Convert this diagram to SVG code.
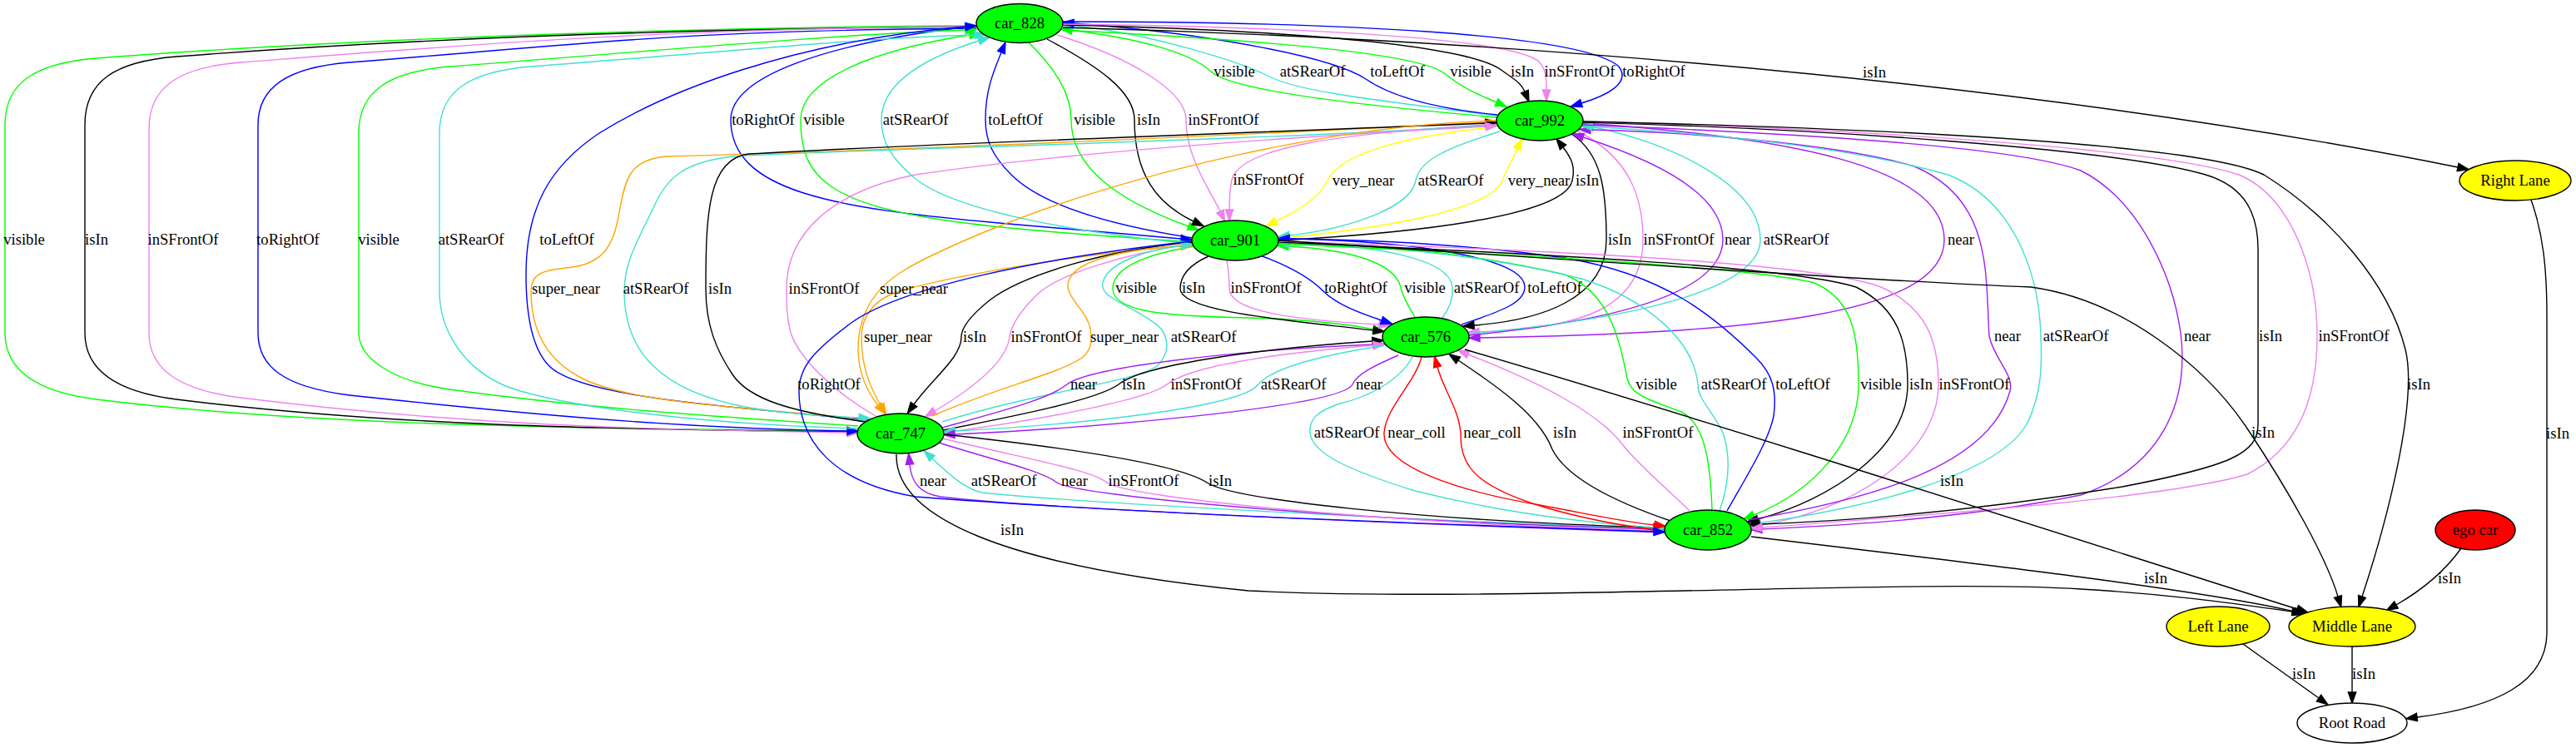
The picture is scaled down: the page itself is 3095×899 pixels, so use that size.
<svg xmlns="http://www.w3.org/2000/svg" width="3095" height="899" viewBox="0 0 3095 899">
<defs>
<style>
.e{fill:none;stroke-width:1.4}
.k{stroke:#000;marker-end:url(#mk)}
.g{stroke:#00ff00;marker-end:url(#mg)}
.v{stroke:#ee82ee;marker-end:url(#mv)}
.b{stroke:#0000ff;marker-end:url(#mb)}
.c{stroke:#40e0d0;marker-end:url(#mc)}
.o{stroke:#ffa500;marker-end:url(#mo)}
.y{stroke:#ffff00;marker-end:url(#my)}
.p{stroke:#a020f0;marker-end:url(#mp)}
.r{stroke:#ff0000;marker-end:url(#mr)}
text{font-family:"Liberation Serif","Times New Roman",serif;font-size:18.67px;fill:#000}
.l text{text-anchor:middle}
.n text{text-anchor:middle}
.n ellipse{stroke:#000;stroke-width:1.4}
</style>
<marker id="mk" markerUnits="userSpaceOnUse" markerWidth="14" markerHeight="10" refX="0" refY="4.7" orient="auto" overflow="visible"><path d="M0,0 L13.3,4.7 L0,9.4 Z" fill="#000" stroke="#000" stroke-width="1.3"/></marker>
<marker id="mg" markerUnits="userSpaceOnUse" markerWidth="14" markerHeight="10" refX="0" refY="4.7" orient="auto" overflow="visible"><path d="M0,0 L13.3,4.7 L0,9.4 Z" fill="#00ff00" stroke="#00ff00" stroke-width="1.3"/></marker>
<marker id="mv" markerUnits="userSpaceOnUse" markerWidth="14" markerHeight="10" refX="0" refY="4.7" orient="auto" overflow="visible"><path d="M0,0 L13.3,4.7 L0,9.4 Z" fill="#ee82ee" stroke="#ee82ee" stroke-width="1.3"/></marker>
<marker id="mb" markerUnits="userSpaceOnUse" markerWidth="14" markerHeight="10" refX="0" refY="4.7" orient="auto" overflow="visible"><path d="M0,0 L13.3,4.7 L0,9.4 Z" fill="#0000ff" stroke="#0000ff" stroke-width="1.3"/></marker>
<marker id="mc" markerUnits="userSpaceOnUse" markerWidth="14" markerHeight="10" refX="0" refY="4.7" orient="auto" overflow="visible"><path d="M0,0 L13.3,4.7 L0,9.4 Z" fill="#40e0d0" stroke="#40e0d0" stroke-width="1.3"/></marker>
<marker id="mo" markerUnits="userSpaceOnUse" markerWidth="14" markerHeight="10" refX="0" refY="4.7" orient="auto" overflow="visible"><path d="M0,0 L13.3,4.7 L0,9.4 Z" fill="#ffa500" stroke="#ffa500" stroke-width="1.3"/></marker>
<marker id="my" markerUnits="userSpaceOnUse" markerWidth="14" markerHeight="10" refX="0" refY="4.7" orient="auto" overflow="visible"><path d="M0,0 L13.3,4.7 L0,9.4 Z" fill="#ffff00" stroke="#ffff00" stroke-width="1.3"/></marker>
<marker id="mp" markerUnits="userSpaceOnUse" markerWidth="14" markerHeight="10" refX="0" refY="4.7" orient="auto" overflow="visible"><path d="M0,0 L13.3,4.7 L0,9.4 Z" fill="#a020f0" stroke="#a020f0" stroke-width="1.3"/></marker>
<marker id="mr" markerUnits="userSpaceOnUse" markerWidth="14" markerHeight="10" refX="0" refY="4.7" orient="auto" overflow="visible"><path d="M0,0 L13.3,4.7 L0,9.4 Z" fill="#ff0000" stroke="#ff0000" stroke-width="1.3"/></marker>
</defs>
<rect width="3095" height="899" fill="#fff"/>
<g id="connectors">
<path class="e g" d="M1798,141 C1650,128 1480,110 1455,86 C1430,62 1360,45 1288,36.5"/>
<path class="e c" d="M1798,139 C1650,120 1560,110 1525,92 C1490,74 1380,40 1290,31"/>
<path class="e b" d="M1799,138 C1720,130 1670,115 1641,95 C1600,68 1450,40 1290,28"/>
<path class="e g" d="M1276,36 C1450,45 1700,60 1735,88 C1760,108 1780,115 1798,123"/>
<path class="e k" d="M1277,30 C1500,35 1760,50 1805,85 C1820,96 1828,100 1832,110"/>
<path class="e v" d="M1277,29 C1550,32 1820,45 1850,75 C1858,85 1858,95 1858,108"/>
<path class="e b" d="M1277,26 C1600,26 1900,40 1945,80 C1960,100 1930,115 1900,124"/>
<path class="e k" d="M1277,33 C1900,50 2500,110 2953,201"/>
<path class="e b" d="M1174,31 C1000,50 878,90 878,144 C878,230 1000,250 1200,268 C1320,278 1380,283 1419,287"/>
<path class="e g" d="M1432,291 C1200,275 1060,265 1000,225 C970,205 962,180 962,144 C962,95 1050,60 1165,42"/>
<path class="e c" d="M1433,293 C1300,280 1150,255 1100,215 C1070,190 1059,170 1059,144 C1059,100 1110,70 1176,49"/>
<path class="e b" d="M1433,286 C1330,270 1250,245 1215,210 C1193,188 1184,170 1184,144 C1184,110 1192,90 1203,63"/>
<path class="e g" d="M1236,51 C1265,80 1287,110 1287,144 C1287,200 1340,240 1428,272"/>
<path class="e k" d="M1258,47 C1320,80 1363,110 1363,144 C1363,210 1390,245 1434,266"/>
<path class="e v" d="M1270,42 C1360,70 1425,110 1425,144 C1425,190 1455,230 1466,254"/>
<path class="e v" d="M1798,149 C1620,160 1490,175 1480,216 C1477,230 1477,240 1477,252"/>
<path class="e y" d="M1800,152 C1680,165 1610,185 1595,217 C1585,237 1565,250 1533,266"/>
<path class="e c" d="M1802,158 C1730,180 1705,195 1701,217 C1695,250 1620,275 1549,283"/>
<path class="e y" d="M1536,287 C1650,275 1790,255 1805,217 C1812,200 1818,190 1823,179"/>
<path class="e k" d="M1536,289 C1700,280 1880,260 1889,217 C1893,200 1888,190 1878,177"/>
<path class="e k" d="M1888,161 C1925,185 1930,230 1930,288 C1930,360 1850,385 1771,391"/>
<path class="e v" d="M1896,158 C1960,190 1974,240 1974,288 C1974,370 1900,395 1777,399"/>
<path class="e p" d="M1765,403 C1950,385 2070,350 2070,288 C2070,230 1980,190 1902,165"/>
<path class="e c" d="M1765,401 C2000,380 2115,340 2115,288 C2115,220 2000,170 1915,153"/>
<path class="e p" d="M1902,148 C2150,165 2336,200 2336,288 C2336,380 2100,400 1778,406"/>
<path class="e g" d="M1173,31 C800,33 400,48 116,70 C41,76 6,100 6,150 L6,400 C6,440 36,470 116,480 C406,516 800,515 1018,518"/>
<path class="e k" d="M1173,32 C800,35 496,46 212,68 C137,74 102,98 102,150 L102,400 C102,440 132,470 212,480 C502,516 800,516 1018,519"/>
<path class="e v" d="M1173,32 C800,34 573,53 289,75 C214,81 179,105 179,155 L179,400 C179,440 209,468 289,478 C579,514 800,516 1018,520"/>
<path class="e b" d="M1173,34 C800,37 704,53 420,75 C345,81 310,105 310,150 L310,400 C310,440 340,465 420,475 C700,505 850,515 1018,518"/>
<path class="e g" d="M1031,512 C850,500 700,490 540,468 C470,458 431,430 431,400 L431,160 C431,110 466,86 541,80 C825,58 1000,42 1160,36"/>
<path class="e c" d="M1031,515 C850,510 680,490 610,465 C560,445 528,400 528,350 L528,160 C528,110 563,86 638,80 C922,58 1050,45 1171,42"/>
<path class="e b" d="M1044,505 C900,490 700,480 660,440 C640,420 632,380 632,330 C632,250 660,200 720,160 C800,110 950,50 1160,32"/>
<path class="e o" d="M1042,504 C900,490 760,485 700,455 C660,435 638,400 638,350 C638,330 650,325 680,322 C730,318 738,290 745,250 C752,210 760,192 800,188 C1100,180 1500,162 1785,147"/>
<path class="e c" d="M1798,150 C1500,170 1000,180 880,188 C820,195 800,215 785,250 C760,300 750,320 750,350 C750,420 790,470 900,490 C950,498 990,500 1032,502"/>
<path class="e k" d="M1040,507 C950,495 900,480 880,450 C860,420 848,390 848,347 C848,260 850,190 900,185 C1100,173 1500,160 1785,148"/>
<path class="e v" d="M1052,500 C1000,470 960,430 950,400 C945,380 945,365 945,347 C945,280 1000,230 1100,210 C1300,180 1600,162 1785,152"/>
<path class="e o" d="M1798,145 C1600,150 1350,210 1180,280 C1090,318 1062,335 1045,365 C1025,400 1025,450 1055,487"/>
<path class="e g" d="M1435,296 C1380,305 1337,320 1337,347 C1337,375 1400,380 1500,382 C1580,384 1620,390 1650,395.6"/>
<path class="e k" d="M1452,308 C1425,320 1418,335 1418,347 C1418,375 1550,385 1650,397"/>
<path class="e v" d="M1474,313 C1476,325 1477,335 1477,347 C1477,375 1560,385 1657,390"/>
<path class="e b" d="M1514,307 C1550,320 1575,335 1590,350 C1605,365 1630,375 1660,385"/>
<path class="e g" d="M1700,381 C1690,365 1685,355 1683,345 C1675,315 1620,300 1548,296"/>
<path class="e c" d="M1733,382 C1742,370 1746,358 1745,345 C1742,310 1650,295 1549,291"/>
<path class="e b" d="M1756,390 C1800,375 1832,365 1832,345 C1832,310 1700,290 1549,287"/>
<path class="e o" d="M1432,294 C1300,305 1150,330 1080,350 C1045,362 1035,385 1035,405 C1035,440 1045,465 1058,487"/>
<path class="e k" d="M1433,291 C1330,300 1230,330 1190,360 C1165,380 1155,395 1155,405 C1155,430 1120,455 1098,486"/>
<path class="e v" d="M1433,293 C1350,305 1270,330 1245,355 C1225,375 1215,390 1213,405 C1210,430 1180,460 1123,494"/>
<path class="e o" d="M1120,500 C1200,465 1270,450 1300,430 C1312,420 1312,410 1310,395 C1305,370 1275,355 1285,335 C1295,315 1340,300 1419,296"/>
<path class="e c" d="M1132,507 C1250,470 1360,460 1390,440 C1405,425 1405,410 1395,395 C1370,370 1320,360 1325,340 C1330,315 1380,300 1420,295"/>
<path class="e p" d="M1132,514 C1200,495 1260,480 1282,462 C1310,440 1500,420 1650,414"/>
<path class="e k" d="M1133,517 C1220,500 1320,480 1344,462 C1370,440 1500,420 1649,410"/>
<path class="e v" d="M1133,520 C1250,505 1380,480 1402,462 C1430,440 1530,425 1650,415"/>
<path class="e c" d="M1664,415 C1600,425 1530,440 1512,462 C1490,490 1300,510 1147,518"/>
<path class="e p" d="M1680,427 C1650,440 1630,450 1625,462 C1610,490 1300,515 1147,522"/>
<path class="e p" d="M2001,640 C1700,630 1250,612 1130,597 C1105,593 1095,580 1093,558"/>
<path class="e c" d="M2000,636 C1700,625 1300,605 1180,592 C1160,588 1140,570 1120,551"/>
<path class="e p" d="M1128,532 C1200,555 1250,565 1270,580 C1290,595 1600,625 1988,636"/>
<path class="e v" d="M1132,527 C1250,555 1310,565 1330,580 C1355,598 1650,628 1988,638"/>
<path class="e k" d="M1134,522 C1300,540 1420,560 1450,580 C1480,600 1700,625 1987,634"/>
<path class="e c" d="M1697,429 C1680,460 1640,478 1610,485 C1580,495 1573,505 1574,520 C1576,545 1620,565 1700,590 C1800,615 1900,628 1988,634"/>
<path class="e r" d="M1708,429 C1700,460 1665,490 1663,520 C1660,560 1750,590 1850,607 C1920,620 1950,627 1988,631"/>
<path class="e r" d="M2000,639 C1900,625 1790,600 1765,560 C1755,545 1755,530 1755,520 C1752,490 1735,470 1727,441"/>
<path class="e k" d="M2010,627 C1930,600 1880,570 1865,540 C1850,500 1800,465 1752,433"/>
<path class="e v" d="M2030,614 C2000,585 1965,555 1950,535 C1920,495 1850,460 1764,426"/>
<path class="e b" d="M1432,290 C1250,310 1080,345 1020,390 C980,420 960,440 960,470 C960,530 1000,580 1100,597 C1400,620 1800,632 1987,639"/>
<path class="e g" d="M2057,613 C2055,560 2050,510 2020,495 C1980,480 1960,475 1955,455 C1945,400 1930,350 1880,330 C1750,300 1620,292 1549,291"/>
<path class="e c" d="M2066,614 C2078,580 2080,550 2070,520 C2055,490 2040,480 2040,462 C2035,410 1980,360 1900,335 C1780,305 1640,294 1549,293"/>
<path class="e b" d="M2075,614 C2100,570 2125,530 2131,500 C2135,470 2130,450 2110,430 C2060,380 2000,330 1880,310 C1750,292 1640,288 1549,287"/>
<path class="e g" d="M1536,293 C1800,305 2100,320 2180,340 C2225,360 2233,400 2233,462 C2233,530 2180,590 2107,619"/>
<path class="e k" d="M1536,291 C1850,305 2150,320 2230,345 C2280,370 2292,410 2292,462 C2292,540 2200,600 2112,624"/>
<path class="e v" d="M1536,290 C1850,300 2180,315 2260,345 C2315,370 2329,410 2329,462 C2329,550 2220,615 2116,631"/>
<path class="e p" d="M2100,625 C2250,600 2390,560 2415,470 C2420,450 2395,430 2390,404 C2385,330 2395,240 2300,200 C2200,170 2000,158 1911,156"/>
<path class="e c" d="M2103,630 C2250,610 2400,570 2435,510 C2455,470 2453,430 2452,404 C2450,330 2420,240 2340,210 C2200,170 2000,158 1913,152"/>
<path class="e p" d="M1902,150 C2150,160 2420,175 2500,205 C2570,240 2610,330 2620,400 C2630,480 2600,560 2500,595 C2350,625 2200,632 2117,636"/>
<path class="e k" d="M1902,147 C2200,155 2550,180 2650,210 C2700,225 2713,260 2713,300 L2713,510 C2713,545 2680,560 2550,585 C2400,610 2250,625 2114,630"/>
<path class="e v" d="M1902,146 C2250,155 2600,180 2690,210 C2750,235 2784,320 2784,404 C2784,480 2760,540 2700,570 C2600,600 2300,620 2117,634"/>
<path class="e k" d="M1902,146 C2300,155 2650,175 2720,210 C2800,260 2870,340 2890,420 C2905,480 2870,620 2838,717"/>
<path class="e k" d="M1536,289 C2000,320 2300,340 2440,345 C2550,360 2650,440 2700,515 C2750,590 2795,670 2809,717"/>
<path class="e k" d="M1760,420 C2100,520 2500,650 2760,732"/>
<path class="e k" d="M2104,645 C2400,680 2650,710 2757,735"/>
<path class="e k" d="M1077,546 C1075,620 1200,680 1500,710 C1800,725 2300,695 2500,708 C2620,715 2700,728 2754,735"/>
<path class="e k" d="M2957,659 C2935,690 2905,712 2879,727"/>
<path class="e k" d="M2695,774 L2786,839"/>
<path class="e k" d="M2826,777 L2826,832"/>
<path class="e k" d="M3041,240 C3055,280 3060,320 3060,380 L3060,760 C3060,820 3000,850 2904,862"/>
<g class="l">
<text x="1483" y="92">visible</text>
<text x="1577" y="92">atSRearOf</text>
<text x="1679" y="92">toLeftOf</text>
<text x="1767" y="92">visible</text>
<text x="1829" y="92">isIn</text>
<text x="1898" y="92">inSFrontOf</text>
<text x="1987" y="92">toRightOf</text>
<text x="2252" y="93">isIn</text>
<text x="917" y="150">toRightOf</text>
<text x="990" y="150">visible</text>
<text x="1100" y="150">atSRearOf</text>
<text x="1220" y="150">toLeftOf</text>
<text x="1315" y="150">visible</text>
<text x="1380" y="150">isIn</text>
<text x="1470" y="150">inSFrontOf</text>
<text x="1524" y="222">inSFrontOf</text>
<text x="1638" y="223">very_near</text>
<text x="1743" y="223">atSRearOf</text>
<text x="1849" y="223">very_near</text>
<text x="1907" y="223">isIn</text>
<text x="29" y="294">visible</text>
<text x="116" y="294">isIn</text>
<text x="220" y="294">inSFrontOf</text>
<text x="346" y="294">toRightOf</text>
<text x="455" y="294">visible</text>
<text x="566" y="294">atSRearOf</text>
<text x="681" y="294">toLeftOf</text>
<text x="1946" y="294">isIn</text>
<text x="2017" y="294">inSFrontOf</text>
<text x="2088" y="294">near</text>
<text x="2158" y="294">atSRearOf</text>
<text x="2356" y="294">near</text>
<text x="680" y="353">super_near</text>
<text x="788" y="353">atSRearOf</text>
<text x="865" y="353">isIn</text>
<text x="990" y="353">inSFrontOf</text>
<text x="1098" y="353">super_near</text>
<text x="1365" y="352">visible</text>
<text x="1434" y="352">isIn</text>
<text x="1521" y="352">inSFrontOf</text>
<text x="1629" y="352">toRightOf</text>
<text x="1712" y="352">visible</text>
<text x="1786" y="352">atSRearOf</text>
<text x="1868" y="352">toLeftOf</text>
<text x="2412" y="410">near</text>
<text x="2494" y="410">atSRearOf</text>
<text x="2640" y="410">near</text>
<text x="2728" y="410">isIn</text>
<text x="2828" y="410">inSFrontOf</text>
<text x="1079" y="411">super_near</text>
<text x="1171" y="411">isIn</text>
<text x="1257" y="411">inSFrontOf</text>
<text x="1351" y="411">super_near</text>
<text x="1446" y="411">atSRearOf</text>
<text x="996" y="468">toRightOf</text>
<text x="1302" y="468">near</text>
<text x="1362" y="468">isIn</text>
<text x="1449" y="468">inSFrontOf</text>
<text x="1554" y="468">atSRearOf</text>
<text x="1645" y="468">near</text>
<text x="1990" y="468">visible</text>
<text x="2083" y="468">atSRearOf</text>
<text x="2166" y="468">toLeftOf</text>
<text x="2260" y="468">visible</text>
<text x="2308" y="468">isIn</text>
<text x="2372" y="468">inSFrontOf</text>
<text x="2906" y="468">isIn</text>
<text x="1618" y="526">atSRearOf</text>
<text x="1702" y="526">near_coll</text>
<text x="1793" y="526">near_coll</text>
<text x="1880" y="526">isIn</text>
<text x="1992" y="526">inSFrontOf</text>
<text x="2719" y="526">isIn</text>
<text x="3073" y="527">isIn</text>
<text x="1121" y="584">near</text>
<text x="1206" y="584">atSRearOf</text>
<text x="1291" y="584">near</text>
<text x="1374" y="584">inSFrontOf</text>
<text x="1466" y="584">isIn</text>
<text x="2345" y="584">isIn</text>
<text x="1216" y="643">isIn</text>
<text x="2590" y="701">isIn</text>
<text x="2943" y="701">isIn</text>
<text x="2768" y="816">isIn</text>
<text x="2840" y="816">isIn</text>
</g>
</g>
<g id="car_828" class="n"><ellipse cx="1225" cy="28" rx="52" ry="23.5" fill="#00ff00"/><text x="1225" y="34">car_828</text></g>
<g id="car_992" class="n"><ellipse cx="1850" cy="145" rx="52" ry="24" fill="#00ff00"/><text x="1850" y="151">car_992</text></g>
<g id="car_901" class="n"><ellipse cx="1484" cy="289" rx="52" ry="24" fill="#00ff00"/><text x="1484" y="295">car_901</text></g>
<g id="car_576" class="n"><ellipse cx="1713" cy="405" rx="52" ry="24" fill="#00ff00"/><text x="1713" y="411">car_576</text></g>
<g id="car_747" class="n"><ellipse cx="1082" cy="521" rx="52" ry="24" fill="#00ff00"/><text x="1082" y="527">car_747</text></g>
<g id="car_852" class="n"><ellipse cx="2052" cy="637" rx="52" ry="24" fill="#00ff00"/><text x="2052" y="643">car_852</text></g>
<g id="right_lane" class="n"><ellipse cx="3022" cy="217" rx="67" ry="24" fill="#ffff00"/><text x="3022" y="223">Right Lane</text></g>
<g id="ego_car" class="n"><ellipse cx="2974" cy="637" rx="48" ry="24" fill="#ff0000"/><text x="2974" y="643">ego car</text></g>
<g id="left_lane" class="n"><ellipse cx="2665" cy="753" rx="62" ry="24" fill="#ffff00"/><text x="2665" y="759">Left Lane</text></g>
<g id="middle_lane" class="n"><ellipse cx="2826" cy="753" rx="76" ry="24" fill="#ffff00"/><text x="2826" y="759">Middle Lane</text></g>
<g id="root_road" class="n"><ellipse cx="2826" cy="869" rx="66" ry="24" fill="#ffffff"/><text x="2826" y="875">Root Road</text></g>
</svg>
